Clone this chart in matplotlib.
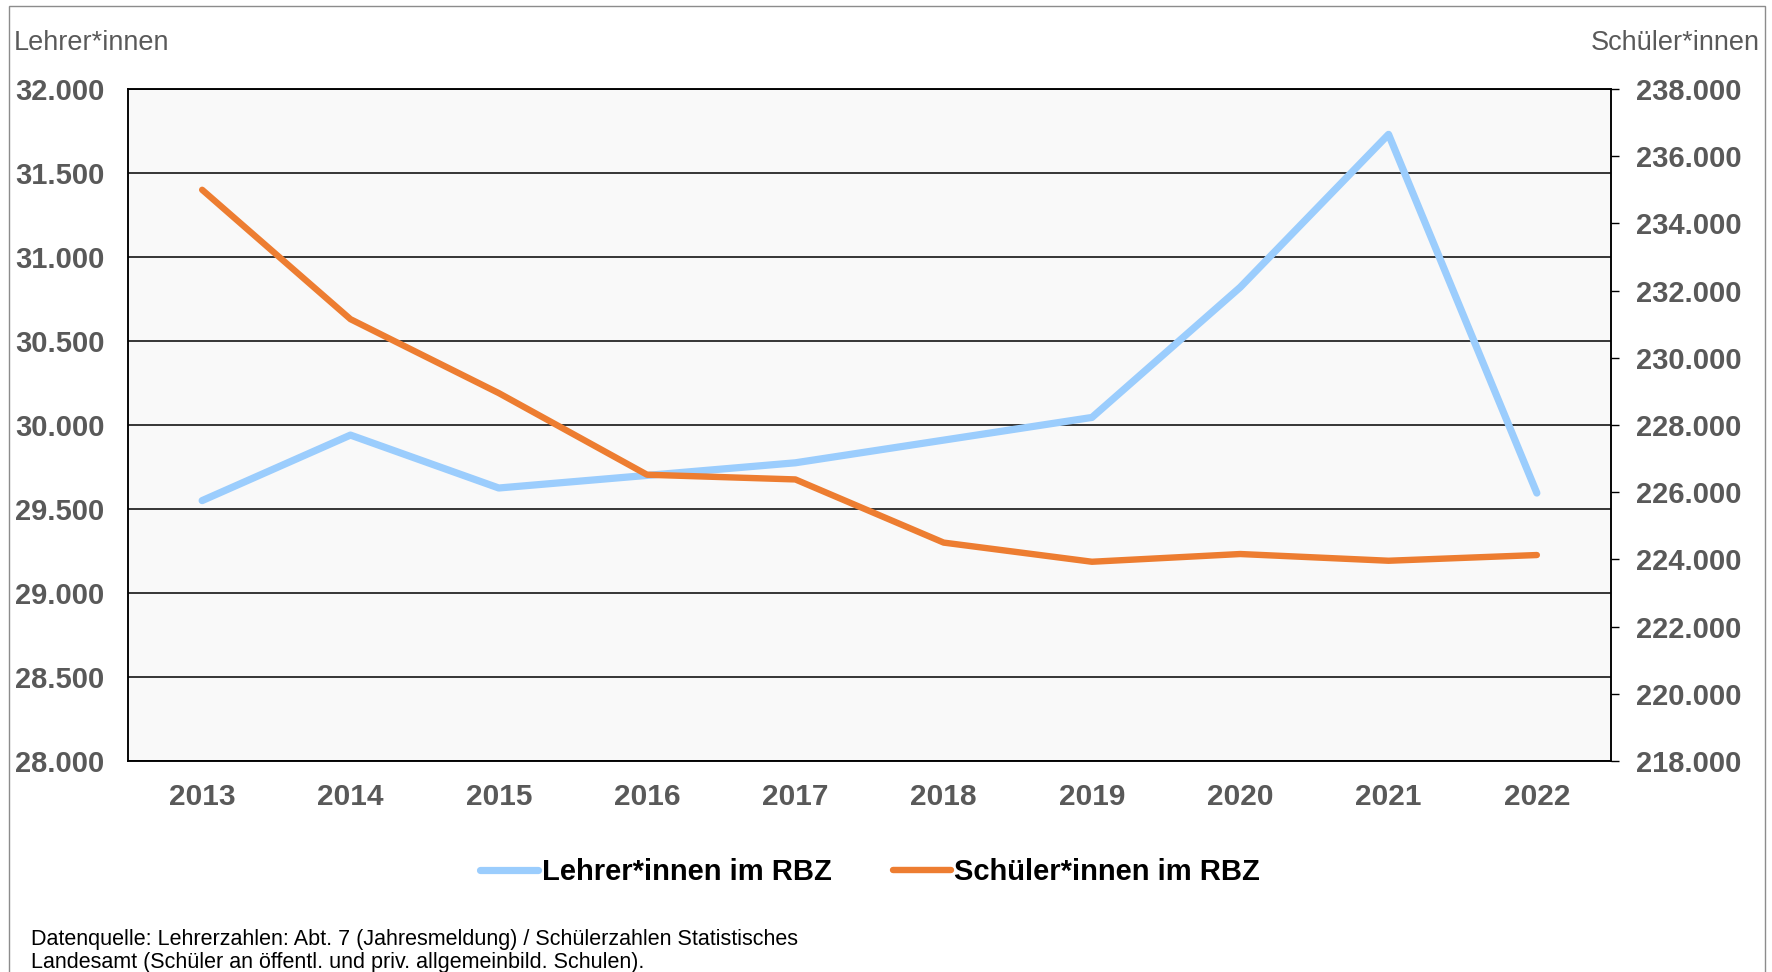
import matplotlib
matplotlib.use("Agg")
import matplotlib.pyplot as plt
from matplotlib.patches import Rectangle
from matplotlib.ticker import FuncFormatter, MultipleLocator

plt.rcParams['font.family'] = ['Liberation Sans', 'DejaVu Sans']

years = ["2013", "2014", "2015", "2016", "2017", "2018", "2019", "2020", "2021", "2022"]
lehrer = [29550, 29940, 29625, 29700, 29775, 29910, 30045, 30820, 31730, 29595]
schueler = [235000, 231150, 228950, 226520, 226380, 224500, 223930, 224160, 223960, 224130]

left_label = "Lehrer*innen"
right_label = "Schüler*innen"
series_names = ["Lehrer*innen im RBZ", "Schüler*innen im RBZ"]
footnote = ("Datenquelle: Lehrerzahlen: Abt. 7 (Jahresmeldung) / Schülerzahlen Statistisches\n"
            "Landesamt (Schüler an öffentl. und priv. allgemeinbild. Schulen).")

BLUE = "#9BCDFD"
ORANGE = "#ED7D31"
GRAY = "#595959"

W, H = 1772, 972
fig = plt.figure(figsize=(W / 100, H / 100), dpi=100)

# outer border
fig.patches.append(Rectangle((9 / W, -0.01), (1765 - 9) / W, 1 - 6 / H + 0.01,
                             transform=fig.transFigure, fill=False,
                             edgecolor="#8C8C8C", linewidth=1.0))

x0, x1 = 128, 1611
y0, y1 = 89, 761
ax = fig.add_axes([x0 / W, 1 - y1 / H, (x1 - x0) / W, (y1 - y0) / H])
ax.set_facecolor("#F9F9F9")

xs = list(range(len(years)))
ax.plot(xs, lehrer, color=BLUE, linewidth=5.2, solid_capstyle="round",
        solid_joinstyle="round", zorder=3, label=series_names[0])
ax.set_xlim(-0.5, len(years) - 0.5)
ax.set_ylim(28000, 32000)
ax.yaxis.set_major_locator(MultipleLocator(500))
fmt = FuncFormatter(lambda v, p: f"{v:,.0f}".replace(",", "."))
ax.yaxis.set_major_formatter(fmt)
ax.set_xticks(xs)
ax.set_xticklabels(years)
ax.grid(axis="y", color="black", linewidth=1.1, zorder=1)
ax.set_axisbelow(True)
ax.tick_params(axis="y", length=0, pad=17, labelsize=21, labelcolor=GRAY)
ax.tick_params(axis="x", length=0, pad=15.5, labelsize=21.5, labelcolor=GRAY)
for lab in ax.get_yticklabels() + ax.get_xticklabels():
    lab.set_fontweight("bold")
for s in ax.spines.values():
    s.set_color("black")
    s.set_linewidth(1.1)

ax2 = ax.twinx()
ax2.plot(xs, schueler, color=ORANGE, linewidth=4.6, solid_capstyle="round",
         solid_joinstyle="round", zorder=4, label=series_names[1])
ax2.set_ylim(218000, 238000)
ax2.yaxis.set_major_locator(MultipleLocator(2000))
ax2.yaxis.set_major_formatter(fmt)
ax2.tick_params(axis="y", direction="out", length=6, width=1.0, color="black",
                pad=12, labelsize=21, labelcolor=GRAY)
for lab in ax2.get_yticklabels():
    lab.set_fontweight("bold")
for s in ax2.spines.values():
    s.set_color("black")
    s.set_linewidth(1.1)

fig.text(14 / W, 1 - 43 / H, left_label, ha="left", va="center",
         fontsize=19.5, color=GRAY)
fig.text(1760 / W, 1 - 43 / H, right_label, ha="right", va="center",
         fontsize=19.5, color=GRAY)

h1, l1 = ax.get_legend_handles_labels()
h2, l2 = ax2.get_legend_handles_labels()
leg = fig.legend(h1 + h2, l1 + l2, loc="center", bbox_to_anchor=(870 / W, 1 - 872 / H),
                 ncol=2, frameon=False, handlelength=2.0, handletextpad=0.12,
                 columnspacing=2.1, prop={"size": 21, "weight": "bold"})
for t in leg.get_texts():
    t.set_color("black")

fig.text(31 / W, 1 - 951 / H, footnote, ha="left", va="center", fontsize=15.5,
         color="black", linespacing=1.1)

fig.savefig("out.png", dpi=100)
